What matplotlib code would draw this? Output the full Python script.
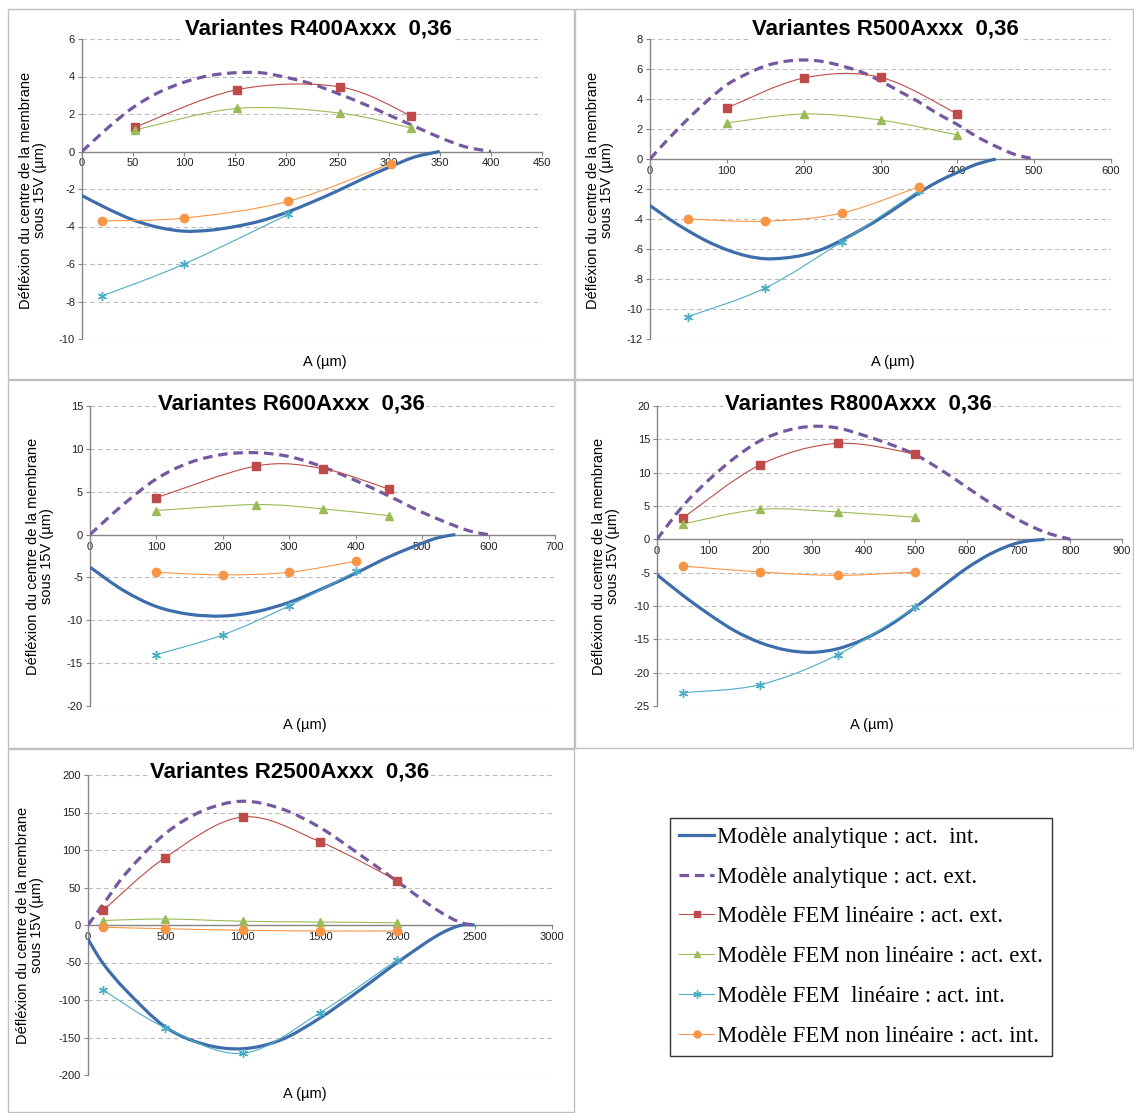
import numpy as np
import matplotlib.pyplot as plt
from matplotlib.path import Path
from matplotlib.patches import PathPatch, Rectangle
from matplotlib.lines import Line2D

W, H = 1134, 1113

# ---- R400 ----
r400_int_x = [0, 25, 50, 75, 100, 125, 150, 175, 200, 225, 250, 275, 300, 325, 350]
r400_int_y = [-2.35, -3.05, -3.65, -4.05, -4.25, -4.2, -4.0, -3.7, -3.25, -2.7, -2.1, -1.45, -0.85, -0.3, 0]
r400_ext_x = [0, 25, 50, 75, 100, 125, 150, 175, 200, 225, 250, 275, 300, 325, 350, 375, 400]
r400_ext_y = [0, 1.25, 2.35, 3.15, 3.7, 4.05, 4.2, 4.2, 3.95, 3.6, 3.1, 2.55, 1.95, 1.35, 0.75, 0.25, 0]
r400_fem_ext_x = [52, 152, 252, 322]
r400_lin_ext = [1.3, 3.3, 3.45, 1.9]
r400_nl_ext = [1.15, 2.3, 2.05, 1.25]
r400_fem_int_x = [20, 100, 202, 302]
r400_lin_int = [-7.7, -6.0, -3.35]
r400_nl_int = [-3.7, -3.55, -2.65, -0.65]

# ---- R500 ----
r500_int_x = [0, 25, 50, 75, 100, 125, 150, 175, 200, 225, 250, 275, 300, 325, 350, 375, 400, 425, 450]
r500_int_y = [-3.1, -4.0, -4.8, -5.5, -6.05, -6.45, -6.65, -6.6, -6.4, -6.0, -5.4, -4.7, -3.95, -3.1,
              -2.25, -1.5, -0.9, -0.35, 0]
r500_ext_x = [0, 25, 50, 75, 100, 125, 150, 175, 200, 225, 250, 275, 300, 325, 350, 375, 400, 425, 450, 475, 500]
r500_ext_y = [0, 1.4, 2.7, 3.9, 4.95, 5.65, 6.2, 6.5, 6.6, 6.5, 6.2, 5.8, 5.2, 4.5, 3.8, 3.0, 2.3, 1.5,
              0.85, 0.3, 0]
r500_fem_ext_x = [100, 200, 300, 400]
r500_lin_ext = [3.4, 5.4, 5.45, 3.0]
r500_nl_ext = [2.4, 3.0, 2.6, 1.6]
r500_fem_int_x = [50, 150, 250, 350]
r500_lin_int = [-10.5, -8.6, -5.5, -2.1]
r500_nl_int = [-4.0, -4.15, -3.6, -1.85]

# ---- R600 ----
r600_int_x = [0, 50, 100, 150, 200, 250, 300, 350, 400, 450, 500, 525, 550]
r600_int_y = [-3.8, -6.5, -8.4, -9.3, -9.5, -9.0, -7.9, -6.3, -4.5, -2.6, -1.0, -0.35, 0]
r600_ext_x = [0, 50, 100, 150, 200, 250, 300, 350, 400, 450, 500, 550, 575, 600]
r600_ext_y = [0, 3.5, 6.5, 8.4, 9.35, 9.55, 9.1, 7.9, 6.3, 4.5, 2.6, 1.0, 0.35, 0]
r600_fem_ext_x = [100, 250, 350, 450]
r600_lin_ext = [4.3, 8.0, 7.7, 5.3]
r600_nl_ext = [2.8, 3.5, 3.0, 2.2]
r600_fem_int_x = [100, 200, 300, 400]
r600_lin_int = [-14.0, -11.7, -8.3, -4.3]
r600_nl_int = [-4.4, -4.7, -4.4, -3.1]

# ---- R800 ----
r800_int_x = [0, 50, 100, 150, 200, 250, 300, 350, 400, 450, 500, 550, 600, 650, 700, 750]
r800_int_y = [-5.3, -8.4, -11.2, -13.7, -15.5, -16.6, -16.95, -16.4, -15.0, -12.9, -10.2, -7.2,
              -4.3, -2.0, -0.5, 0]
r800_ext_x = [0, 50, 100, 150, 200, 250, 300, 350, 400, 450, 500, 550, 600, 650, 700, 750, 800]
r800_ext_y = [0, 5.0, 8.9, 12.2, 14.8, 16.3, 16.95, 16.7, 15.6, 14.3, 12.7, 10.4, 7.8, 5.2, 2.9, 1.1, 0]
r800_fem_ext_x = [50, 200, 350, 500]
r800_lin_ext = [3.2, 11.2, 14.4, 12.8]
r800_nl_ext = [2.3, 4.5, 4.1, 3.3]
r800_fem_int_x = [50, 200, 350, 500]
r800_lin_int = [-23.0, -21.8, -17.3, -10.2]
r800_nl_int = [-4.0, -4.9, -5.4, -4.9]

# ---- R2500 ----
r2500_int_x = [0, 100, 250, 500, 750, 1000, 1250, 1500, 1750, 2000, 2250, 2400, 2500]
r2500_int_y = [-19, -52, -88, -136, -159, -165, -153, -124, -88, -50, -15, -1, 0]
r2500_ext_x = [0, 100, 250, 500, 750, 1000, 1250, 1500, 1750, 2000, 2250, 2400, 2500]
r2500_ext_y = [0, 28, 70, 122, 153, 165, 155, 130, 95, 58, 21, 4, 0]
r2500_fem_ext_x = [100, 500, 1000, 1500, 2000]
r2500_lin_ext = [20, 90, 144, 111, 59]
r2500_nl_ext = [6, 8, 5, 4, 3]
r2500_fem_int_x = [100, 500, 1000, 1500, 2000]
r2500_lin_int = [-87, -137, -171, -117, -46]
r2500_nl_int = [-3, -5, -7, -8, -8]

labels = ["Modèle analytique : act.  int.", "Modèle analytique : act. ext.",
          "Modèle FEM linéaire : act. ext.", "Modèle FEM non linéaire : act. ext.",
          "Modèle FEM  linéaire : act. int.", "Modèle FEM non linéaire : act. int."]

c_int, c_ext = '#3D6DAA', '#7458A0'
c_red, c_green, c_cyan, c_orange = '#BE4B48', '#9BBB59', '#4BACC6', '#F79646'

panels = [
    dict(name="R400", xmax=450, xstep=50, ymin=-10, ymax=6, ystep=2,
         box=(82, 542, 39, 339), title=(318, 29), ylab=(33, 190), xlab=(325, 362),
         ai=(r400_int_x, r400_int_y), ae=(r400_ext_x, r400_ext_y),
         fx_e=r400_fem_ext_x, le=r400_lin_ext, ne=r400_nl_ext,
         fx_i=r400_fem_int_x, li=r400_lin_int, ni=r400_nl_int),
    dict(name="R500", xmax=600, xstep=100, ymin=-12, ymax=8, ystep=2,
         box=(650, 1111, 39, 339), title=(885, 29), ylab=(600, 190), xlab=(893, 362),
         ai=(r500_int_x, r500_int_y), ae=(r500_ext_x, r500_ext_y),
         fx_e=r500_fem_ext_x, le=r500_lin_ext, ne=r500_nl_ext,
         fx_i=r500_fem_int_x, li=r500_lin_int, ni=r500_nl_int),
    dict(name="R600", xmax=700, xstep=100, ymin=-20, ymax=15, ystep=5,
         box=(90, 555, 406, 706), title=(291, 404), ylab=(40, 556), xlab=(305, 725),
         ai=(r600_int_x, r600_int_y), ae=(r600_ext_x, r600_ext_y),
         fx_e=r600_fem_ext_x, le=r600_lin_ext, ne=r600_nl_ext,
         fx_i=r600_fem_int_x, li=r600_lin_int, ni=r600_nl_int),
    dict(name="R800", xmax=900, xstep=100, ymin=-25, ymax=20, ystep=5,
         box=(657, 1122, 406, 706), title=(858, 404), ylab=(606, 556), xlab=(872, 725),
         ai=(r800_int_x, r800_int_y), ae=(r800_ext_x, r800_ext_y),
         fx_e=r800_fem_ext_x, le=r800_lin_ext, ne=r800_nl_ext,
         fx_i=r800_fem_int_x, li=r800_lin_int, ni=r800_nl_int),
    dict(name="R2500", xmax=3000, xstep=500, ymin=-200, ymax=200, ystep=50,
         box=(88, 552, 775, 1075), title=(290, 772), ylab=(30, 925), xlab=(305, 1094),
         ai=(r2500_int_x, r2500_int_y), ae=(r2500_ext_x, r2500_ext_y),
         fx_e=r2500_fem_ext_x, le=r2500_lin_ext, ne=r2500_nl_ext,
         fx_i=r2500_fem_int_x, li=r2500_lin_int, ni=r2500_nl_int),
]


def smooth(x, y):
    # Excel-like smoothed line: cubic Bezier through the points
    p = np.column_stack([x, y]).astype(float)
    n = len(p)
    verts, codes = [p[0]], [Path.MOVETO]
    for i in range(n - 1):
        p0 = p[i - 1] if i > 0 else p[i]
        p3 = p[i + 2] if i + 2 < n else p[i + 1]
        verts += [p[i] + (p[i + 1] - p0) / 6, p[i + 1] - (p3 - p[i]) / 6, p[i + 1]]
        codes += [Path.CURVE4] * 3
    return Path(verts, codes)


def draw(ax, x, y, color, lw, ls='-', marker=None, ms=5, z=3):
    ax.add_patch(PathPatch(smooth(x, y), fill=False, edgecolor=color, lw=lw,
                           linestyle=ls, zorder=z, capstyle='butt'))
    if marker:
        ax.plot(x, y, ls='none', marker=marker, ms=ms, color=color, mec=color,
                mew=1, zorder=z + 1)


plt.rcParams['font.family'] = ['Liberation Sans', 'DejaVu Sans']
plt.rcParams['axes.unicode_minus'] = False
fig = plt.figure(figsize=(W / 100, H / 100), dpi=100)

# panel frames
for (x0, y0, x1, y1) in [(8, 9, 574, 379), (575, 9, 1133, 379), (8, 380, 574, 748),
                         (575, 380, 1133, 748), (8, 749, 574, 1112)]:
    fig.add_artist(Rectangle((x0 / W, 1 - y1 / H), (x1 - x0) / W, (y1 - y0) / H,
                             transform=fig.transFigure, fill=False, ec='#C0C0C0', lw=1))

ast = (6, 2, 0)
for p in panels:
    l, r, t, b = p['box']
    ax = fig.add_axes([l / W, 1 - b / H, (r - l) / W, (b - t) / H])
    ax.set_xlim(0, p['xmax'])
    ax.set_ylim(p['ymin'], p['ymax'])
    ax.set_xticks(np.arange(0, p['xmax'] + 1, p['xstep']))
    ax.set_yticks(np.arange(p['ymin'], p['ymax'] + 0.1, p['ystep']))
    ax.spines['top'].set_visible(False)
    ax.spines['right'].set_visible(False)
    ax.spines['bottom'].set_position(('data', 0))
    for s in ('left', 'bottom'):
        ax.spines[s].set_color('#868686')
        ax.spines[s].set_linewidth(1.0)
    ax.tick_params(labelsize=8, length=3, color='#868686', labelcolor='#222222', pad=2)
    ax.yaxis.grid(True, color='#BBBBBB', lw=0.8, ls=(0, (4, 3)))
    ax.set_axisbelow(True)

    draw(ax, *p['ai'], c_int, 2.3, z=3)
    draw(ax, *p['ae'], c_ext, 2.3, ls=(0, (3, 1.8)), z=3)
    draw(ax, p['fx_e'], p['le'], c_red, 0.8, marker='s', ms=5.5, z=4)
    draw(ax, p['fx_e'], p['ne'], c_green, 0.8, marker='^', ms=6, z=4)
    draw(ax, p['fx_i'][:len(p['li'])], p['li'], c_cyan, 0.8, marker=ast, ms=6.5, z=4)
    draw(ax, p['fx_i'][:len(p['ni'])], p['ni'], c_orange, 0.8, marker='o', ms=6, z=4)

    tx, ty = p['title']
    fig.text(tx / W, 1 - ty / H, f"Variantes {p['name']}Axxx  0,36", ha='center', va='center',
             fontsize=16, fontweight='bold', zorder=10,
             bbox=dict(facecolor='white', edgecolor='none', pad=1))
    yx, yy = p['ylab']
    fig.text(yx / W, 1 - yy / H, "Défléxion du centre de la membrane\nsous 15V (µm)",
             rotation=90, ha='center', va='center', multialignment='center',
             fontsize=10.5, linespacing=1.0)
    xx, xy = p['xlab']
    fig.text(xx / W, 1 - xy / H, "A (µm)", ha='center', va='center', fontsize=10.5)

handles = [
    Line2D([], [], color=c_int, lw=2.3),
    Line2D([], [], color=c_ext, lw=2.3, ls=(0, (3, 1.8))),
    Line2D([], [], color=c_red, lw=0.8, marker='s', ms=5),
    Line2D([], [], color=c_green, lw=0.8, marker='^', ms=5),
    Line2D([], [], color=c_cyan, lw=0.8, marker=ast, ms=6),
    Line2D([], [], color=c_orange, lw=0.8, marker='o', ms=5),
]
leg = fig.legend(handles, labels, loc='upper left', bbox_to_anchor=(670 / W, 1 - 818 / H),
                 prop={'family': 'Liberation Serif', 'size': 16.4}, frameon=True,
                 fancybox=False, edgecolor='black', handlelength=1.55, handletextpad=0.1,
                 labelspacing=0.82, borderpad=0.4, borderaxespad=0)
leg.get_frame().set_linewidth(1.0)

fig.savefig('out.png', dpi=100)
